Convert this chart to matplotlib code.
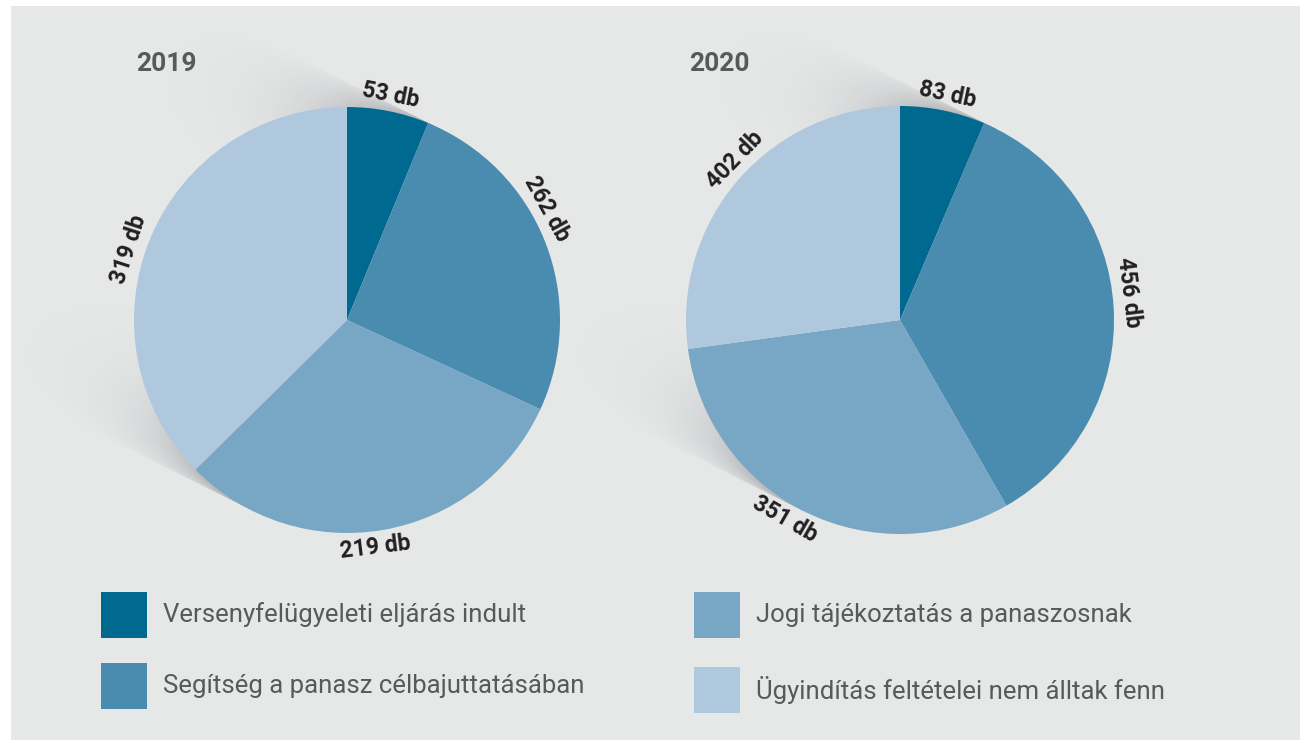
import numpy as np
import matplotlib
matplotlib.use("Agg")
import matplotlib.pyplot as plt
from matplotlib.patches import Rectangle

W, H = 1300, 742

# data
categories = ["Versenyfelügyeleti eljárás indult",
              "Segítség a panasz célbajuttatásában",
              "Jogi tájékoztatás a panaszosnak",
              "Ügyindítás feltételei nem álltak fenn"]
years = ["2019", "2020"]
# numbers printed next to the slices
labels_2019 = [53, 262, 219, 319]
labels_2020 = [83, 456, 351, 402]
# slice sizes as they are drawn in the picture (measured from the angles)
slices_2019 = [53, 219, 262, 319]
slices_2020 = [83, 456, 402, 351]
colors = ["#00698f", "#4a8bb0", "#78a7c6", "#b0c8dd"]

# where the value labels sit (degrees clockwise from top)
label_angles_2019 = [11, 61, 173, 288]
label_angles_2020 = [12, 83, 210, 314]

bg = "#e6e7e7"
plt.rcParams['font.family'] = ['Roboto', 'DejaVu Sans']

fig = plt.figure(figsize=(W / 100, H / 100), dpi=100, facecolor="white")
ax = fig.add_axes([0, 0, 1, 1])
ax.set_axis_off()
ax.add_patch(Rectangle((11, 2), W - 11, H - 8, color=bg, zorder=0, linewidth=0))


def py(y):
    return H - y


def shadow(cx, cy, r):
    # soft cast shadow towards the upper left
    d = np.array([-2.0, 1.0]) / np.sqrt(5)
    n = np.array([1.0, 2.0]) / np.sqrt(5)
    X, Y = np.meshgrid(np.arange(W) + 0.5, np.arange(H) + 0.5)
    s = (X - cx) * d[0] + (Y - cy) * d[1]
    t = ((X - cx) * n[0] + (Y - cy) * n[1]) / r
    tc = np.clip(np.abs(t), 0, 1)
    s_eff = s - r * np.sqrt(1 - tc ** 2)
    a = tc ** 5 * np.exp(-np.clip(s_eff, 0, None) / 60) * 0.45
    a *= np.clip(1 - s_eff / 200, 0, 1)
    a[(s < 0) | (np.abs(t) > 1)] = 0
    img = np.zeros((H, W, 4))
    img[..., 0] = 0.42
    img[..., 1] = 0.43
    img[..., 2] = 0.46
    img[..., 3] = a
    ax.imshow(img, extent=(0, W, 0, H), origin="lower", zorder=0.5,
              interpolation="bilinear")


def draw_pie(sizes, labels, angles, cx, cy, r, title):
    shadow(cx, py(cy), r)
    wedges, _ = ax.pie(sizes, colors=colors, startangle=90, counterclock=False,
                       center=(cx, py(cy)), radius=r, frame=True,
                       wedgeprops=dict(linewidth=0))
    for w in wedges:
        w.set_zorder(2)
    R = r + 16
    for v, th in zip(labels, angles):
        rad = np.deg2rad(th)
        x = cx + R * np.sin(rad)
        y = py(cy) + R * np.cos(rad)
        rot = 180 - th if 90 < th < 270 else -th
        ax.text(x, y, f"{v} db", rotation=rot, rotation_mode="anchor",
                ha="center", va="center", fontsize=16.5, fontweight="bold",
                color="#231f20", zorder=3)
    ax.text(cx - 211, py(64), title, ha="left", va="center", fontsize=19,
            fontweight="bold", color="#58595b", zorder=3)


draw_pie(slices_2019, labels_2019, label_angles_2019, 347, 320, 213, years[0])
draw_pie(slices_2020, labels_2020, label_angles_2020, 900, 320, 214, years[1])

# legend
legend_pos = [(101, 615), (101, 686), (694, 615), (694, 690)]
for (lx, ly), c, lab in zip(legend_pos, colors, categories):
    ax.add_patch(Rectangle((lx, py(ly) - 23), 46, 46, color=c, linewidth=0, zorder=2))
    ax.text(lx + 62, py(ly), lab, ha="left", va="center", fontsize=18.5,
            color="#58595b", zorder=3)

ax.set_xlim(0, W)
ax.set_ylim(0, H)
ax.set_aspect("auto")

fig.savefig("out.png", dpi=100, facecolor="white")
